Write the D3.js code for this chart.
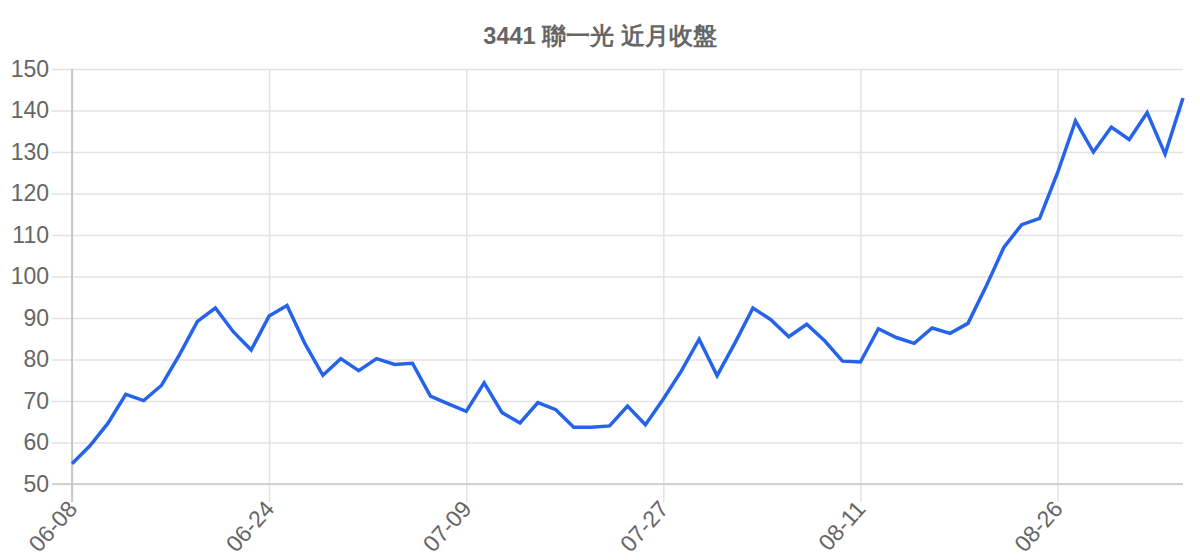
<!DOCTYPE html>
<html>
<head>
<meta charset="utf-8">
<script src="https://cdn.jsdelivr.net/npm/d3@7"></script>
<style>
  body { margin: 0; background: #fff; }
  text { font-family: "Liberation Sans", Arial, sans-serif; }
</style>
</head>
<body>
<svg id="chart" width="1200" height="560"></svg>
<script>
// ---- data ----
const title = "3441 聯一光 近月收盤";

const dates = [
  "06-08", "06-09", "06-10", "06-11", "06-15", "06-16", "06-17", "06-18", "06-21", "06-22", "06-23",
  "06-24", "06-25", "06-28", "06-29", "06-30", "07-01", "07-02", "07-05", "07-06", "07-07", "07-08",
  "07-09", "07-12", "07-13", "07-14", "07-15", "07-16", "07-19", "07-20", "07-21", "07-22", "07-26",
  "07-27", "07-28", "07-29", "07-30", "08-02", "08-03", "08-04", "08-05", "08-06", "08-09", "08-10",
  "08-11", "08-12", "08-13", "08-16", "08-17", "08-18", "08-19", "08-20", "08-23", "08-24", "08-25",
  "08-26", "08-27", "08-30", "08-31", "09-01", "09-02", "09-03", "09-06"
];

const closes = [
  54.9, 59.2, 64.6, 71.6, 70.1, 73.8, 81.2, 89.2, 92.4, 86.7, 82.3,
  90.5, 93.0, 83.8, 76.2, 80.2, 77.3, 80.2, 78.8, 79.1, 71.2, 69.3,
  67.5, 74.4, 67.2, 64.7, 69.6, 67.9, 63.7, 63.7, 64.0, 68.8, 64.3,
  70.5, 77.2, 84.9, 76.1, 84.0, 92.4, 89.6, 85.5, 88.5, 84.5, 79.6,
  79.4, 87.4, 85.3, 83.9, 87.6, 86.3, 88.7, 97.5, 107.0, 112.5, 114.0,
  125.0, 137.5, 130.0, 136.0, 133.0, 139.5, 129.5, 143.0
];

const yTicks = [50, 60, 70, 80, 90, 100, 110, 120, 130, 140, 150];
const xTickLabels = ["06-08", "06-24", "07-09", "07-27", "08-11", "08-26"];

// ---- layout ----
const svg = d3.select("#chart");
const margin = { top: 69, right: 17, bottom: 76, left: 72 };
const width = 1200, height = 560;
const innerW = width - margin.left - margin.right;
const innerH = height - margin.top - margin.bottom;

const x = d3.scalePoint().domain(dates).range([0, innerW]);
const y = d3.scaleLinear().domain([50, 150]).range([innerH, 0]);

const g = svg.append("g").attr("transform", `translate(${margin.left},${margin.top})`);

// title
svg.append("text")
  .attr("x", width / 2)
  .attr("y", 44)
  .attr("text-anchor", "middle")
  .style("font-size", "23.5px")
  .style("font-weight", "bold")
  .style("fill", "#666")
  .text(title);

// horizontal grid + y labels
const yAxis = d3.axisLeft(y).tickValues(yTicks).tickSize(innerW + 20).tickPadding(3);
const yg = g.append("g")
  .attr("transform", `translate(${innerW},0)`)
  .call(yAxis);
yg.select(".domain").remove();
yg.selectAll(".tick line").attr("stroke", "#e2e2e2").attr("stroke-width", 1.5);
yg.selectAll(".tick text")
  .style("font-size", "23px")
  .style("fill", "#666");

// vertical grid + x labels
const xAxis = d3.axisBottom(x).tickValues(xTickLabels).tickSize(-innerH).tickFormat(d => d);
const xg = g.append("g")
  .attr("transform", `translate(0,${innerH})`)
  .call(xAxis);
xg.select(".domain").remove();
xg.selectAll(".tick line")
  .attr("y2", -innerH)
  .attr("y1", 18)
  .attr("stroke", "#e2e2e2")
  .attr("stroke-width", 1.5);
xg.selectAll(".tick text")
  .style("font-size", "23px")
  .style("fill", "#666")
  .attr("text-anchor", "end")
  .attr("dy", "0.7em")
  .attr("transform", "translate(-6,15) rotate(-48)")
  .attr("y", 0)
  .attr("x", 0);

// axis lines
g.append("line")
  .attr("x1", 0).attr("x2", 0)
  .attr("y1", 0).attr("y2", innerH + 18)
  .attr("stroke", "#bdbdbd").attr("stroke-width", 1.5);
g.append("line")
  .attr("x1", -20).attr("x2", innerW)
  .attr("y1", innerH).attr("y2", innerH)
  .attr("stroke", "#c8c8c8").attr("stroke-width", 1.5);

// price line
const line = d3.line()
  .x((d, i) => x(dates[i]))
  .y(d => y(d));

g.append("path")
  .datum(closes)
  .attr("fill", "none")
  .attr("stroke", "#2563eb")
  .attr("stroke-width", 3.5)
  .attr("stroke-linejoin", "miter")
  .attr("d", line);
</script>
</body>
</html>
